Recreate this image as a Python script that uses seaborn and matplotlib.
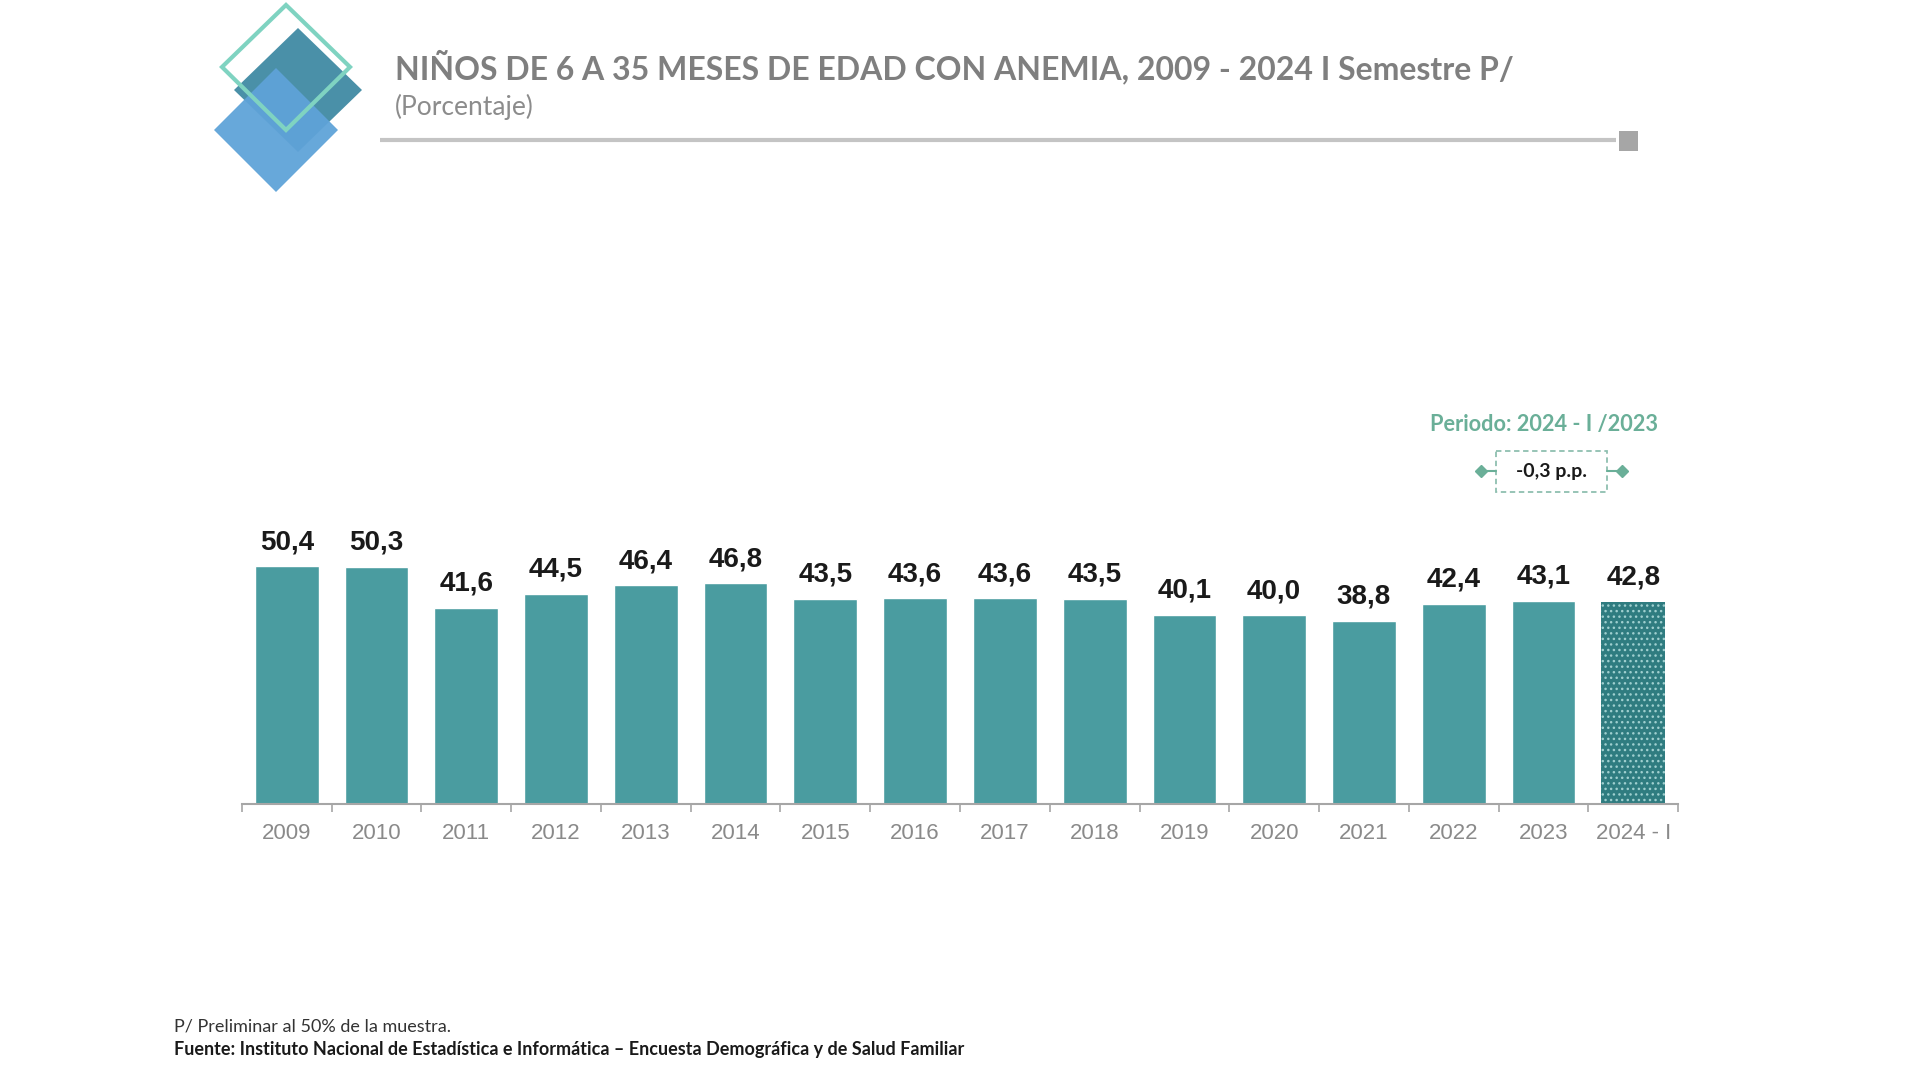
import numpy as np
import pandas as pd
import seaborn as sns
import matplotlib.pyplot as plt
from matplotlib.patches import Polygon, Rectangle

sns.set_theme(style="white")
plt.rcParams['font.family'] = ['Liberation Sans', 'DejaVu Sans']

# data
periodos = ['2009', '2010', '2011', '2012', '2013', '2014', '2015', '2016',
            '2017', '2018', '2019', '2020', '2021', '2022', '2023', '2024 - I']
valores = [50.4, 50.3, 41.6, 44.5, 46.4, 46.8, 43.5, 43.6,
           43.6, 43.5, 40.1, 40.0, 38.8, 42.4, 43.1, 42.8]

titulo = 'NIÑOS DE 6 A 35 MESES DE EDAD CON ANEMIA, 2009 - 2024 I Semestre P/'
subtitulo = '(Porcentaje)'
nota = 'P/ Preliminar al 50% de la muestra.'
fuente = ('Fuente: Instituto Nacional de Estadística e Informática – '
          'Encuesta Demográfica y de Salud Familiar')
periodo_txt = 'Periodo: 2024 - I /2023'
variacion_txt = '-0,3 p.p.'

df = pd.DataFrame({'periodo': periodos, 'valor': valores})

teal = '#4A9CA0'
teal_dark = '#2F7C80'
green = '#6AAF98'

fig = plt.figure(figsize=(19.2, 10.8), dpi=100)
ax = fig.add_axes([0.126, 0.2556, 0.748, 0.262])

sns.barplot(data=df, x='periodo', y='valor', color=teal, width=0.71,
            saturation=1, ax=ax)

# preliminary bar: darker with dotted pattern
last = ax.patches[len(periodos) - 1]
last.set_facecolor(teal_dark)
last.set_edgecolor('#9FCFCF')
last.set_linewidth(0)
last.set_hatch('...')

ax.bar_label(ax.containers[0],
             labels=[f'{v:.1f}'.replace('.', ',') for v in valores],
             padding=8, fontsize=20, fontweight='bold', color='#1A1A1A')

ax.set_ylim(0, 60)
ax.set_xlim(-0.5, len(periodos) - 0.5)
ax.set_xlabel('')
ax.set_ylabel('')
ax.set_yticks([])
ax.set_xticks(np.arange(-0.5, len(periodos), 1), minor=True)
ax.tick_params(axis='x', which='major', length=0, pad=14, labelsize=16,
               labelcolor='#8A8A8A')
ax.tick_params(axis='x', which='minor', length=6, width=1.2,
               color='#A6A6A6', bottom=True, direction='out')
for s in ['top', 'left', 'right']:
    ax.spines[s].set_visible(False)
ax.spines['bottom'].set_color('#A6A6A6')
ax.spines['bottom'].set_linewidth(1.5)
ax.patch.set_visible(False)

# overlay in pixel coordinates for header decoration and notes
ov = fig.add_axes([0, 0, 1, 1], zorder=-1)
ov.set_xlim(0, 1920)
ov.set_ylim(1080, 0)
ov.axis('off')

ov.add_patch(Polygon([(298, 28), (362, 90), (298, 152), (234, 90)],
                     closed=True, facecolor='#4A90A8', edgecolor='none'))
ov.add_patch(Polygon([(276, 68), (338, 130), (276, 192), (214, 130)],
                     closed=True, facecolor='#5FA3D8', edgecolor='none', alpha=0.95))
ov.add_patch(Polygon([(286, 5), (350, 67), (286, 130), (222, 67)],
                     closed=True, facecolor='none', edgecolor='#7FD3C1', linewidth=3))

ov.text(395, 67, titulo, fontsize=23, fontweight='bold', color='#7F7F7F',
        va='center', ha='left', family=['Lato', 'DejaVu Sans'])
ov.text(395, 107, subtitulo, fontsize=19, color='#8C8C8C',
        va='center', ha='left', family=['Lato', 'DejaVu Sans'])
ov.plot([380, 1616], [140, 140], color='#C4C4C4', linewidth=3,
        solid_capstyle='butt')
ov.add_patch(Rectangle((1619, 131), 19, 20, facecolor='#A6A6A6', edgecolor='none'))

# period annotation
ov.text(1544, 424, periodo_txt, fontsize=15.7, fontweight='bold', color=green,
        ha='center', va='center', family=['Lato', 'DejaVu Sans'])
ov.add_patch(Rectangle((1496, 451), 111, 41, facecolor='none',
                       edgecolor='#8FBFB0', linewidth=1.3, linestyle=(0, (3, 2))))
ov.text(1551, 472, variacion_txt, fontsize=14, fontweight='bold', color='#1A1A1A',
        ha='center', va='center', family=['Lato', 'DejaVu Sans'])
ov.plot([1481, 1496], [471, 471], color=green, linewidth=1.5)
ov.plot([1607, 1622], [471, 471], color=green, linewidth=1.5)
ov.plot([1481], [471], marker='D', markersize=6, color=green)
ov.plot([1622], [471], marker='D', markersize=6, color=green)

# notes
ov.text(174, 1027, nota, fontsize=13, color='#333333', ha='left', va='center',
        family=['Lato', 'DejaVu Sans'])
ov.text(174, 1050, fuente, fontsize=13, fontweight='bold', color='#1A1A1A',
        ha='left', va='center', family=['Lato', 'DejaVu Sans'])

fig.savefig('out.png', dpi=100, facecolor='white')
